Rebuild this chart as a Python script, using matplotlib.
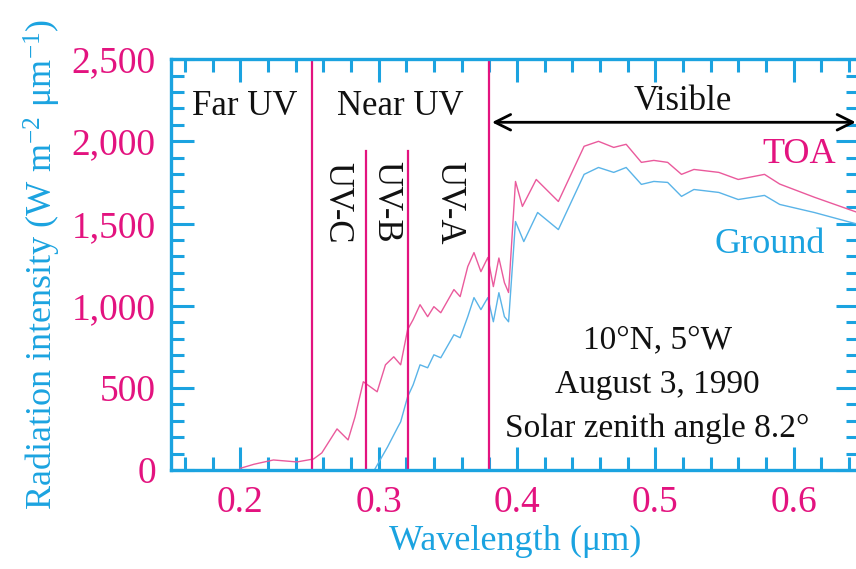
import matplotlib
matplotlib.use("Agg")
import matplotlib.pyplot as plt
from matplotlib.ticker import MultipleLocator

plt.rcParams['font.family'] = ['Liberation Serif', 'DejaVu Serif']
plt.rcParams['mathtext.fontset'] = 'custom'
plt.rcParams['mathtext.rm'] = 'Liberation Serif'
plt.rcParams['mathtext.it'] = 'Liberation Serif:italic'

PINK = '#e3137f'
BLUE = '#1ba3e0'

# espectro no topo da atmosfera (TOA)
toa_wl = [0.200, 0.210, 0.224, 0.241, 0.253, 0.259, 0.270, 0.278, 0.283, 0.289,
          0.299, 0.305, 0.311, 0.316, 0.321, 0.325, 0.330, 0.3355, 0.340, 0.345,
          0.3545, 0.359, 0.3645, 0.369, 0.374, 0.379, 0.383, 0.387, 0.391, 0.394,
          0.399, 0.404, 0.414, 0.430, 0.4486, 0.459, 0.470, 0.479, 0.490, 0.499,
          0.509, 0.519, 0.528, 0.546, 0.560, 0.579, 0.590, 0.615, 0.647]
toa_val = [10, 35, 61, 49, 67, 104, 250, 183, 323, 537,
           476, 640, 689, 640, 854, 915, 1006, 933, 994, 957,
           1098, 1055, 1238, 1323, 1207, 1293, 1116, 1290, 1140, 1080,
           1756, 1604, 1768, 1634, 1970, 2000, 1963, 1982, 1872, 1884,
           1872, 1799, 1829, 1811, 1768, 1799, 1740, 1660, 1565]

# espectro na superficie (Ground)
gnd_wl = [0.297, 0.3065, 0.314, 0.316, 0.321, 0.325, 0.330, 0.3355, 0.340, 0.345,
          0.3545, 0.359, 0.3645, 0.369, 0.374, 0.379, 0.383, 0.387, 0.391, 0.394,
          0.399, 0.405, 0.415, 0.430, 0.4486, 0.459, 0.470, 0.479, 0.490, 0.499,
          0.509, 0.519, 0.528, 0.546, 0.560, 0.579, 0.590, 0.615, 0.647]
gnd_val = [0, 140, 262, 293, 445, 518, 640, 622, 701, 683,
           823, 805, 933, 1049, 976, 1049, 902, 1079, 933, 902,
           1512, 1390, 1567, 1463, 1799, 1841, 1811, 1841, 1738, 1756,
           1750, 1665, 1707, 1689, 1646, 1671, 1616, 1567, 1494]

# limites das bandas
full_lines = [0.252, 0.38]
short_lines = [0.291, 0.321]
short_top = 1940

fig = plt.figure(figsize=(8.56, 5.69), dpi=100)
ax = fig.add_axes([0.1998, 0.174, 0.8032, 0.722])

ax.plot(toa_wl, toa_val, color='#ea5a9c', lw=1.0)
ax.plot(gnd_wl, gnd_val, color='#5ab4e8', lw=1.0)

for x in full_lines:
    ax.axvline(x, color=PINK, lw=1.6)
for x in short_lines:
    ax.plot([x, x], [0, short_top], color=PINK, lw=1.6)

ax.set_xlim(0.15, 0.647)
ax.set_ylim(0, 2500)

ax.xaxis.set_minor_locator(MultipleLocator(0.02))
ax.yaxis.set_minor_locator(MultipleLocator(100))
ax.set_xticks([0.2, 0.3, 0.4, 0.5, 0.6])
ax.set_xticklabels(['0.2', '0.3', '0.4', '0.5', '0.6'])
ax.set_yticks([0, 500, 1000, 1500, 2000, 2500])
ax.set_yticklabels(['0', '500', '1,000', '1,500', '2,000', '2,500'])

ax.tick_params(which='both', direction='in', top=True, right=True, color=BLUE,
               width=2.2, labelcolor=PINK, labelsize=27, pad=11)
ax.tick_params(which='major', length=16.5)
ax.tick_params(which='minor', length=9.5)
for s in ax.spines.values():
    s.set_color(BLUE)
    s.set_linewidth(2.4)

ax.set_xlabel('Wavelength (μm)', color=BLUE, fontsize=26, labelpad=4)
ax.set_ylabel('Radiation intensity (W m$^{-2}$ μm$^{-1}$)', color=BLUE, fontsize=26, labelpad=6)

ax.text(0.203, 2213, 'Far UV', ha='center', va='center', fontsize=25, color='#111111')
ax.text(0.316, 2213, 'Near UV', ha='center', va='center', fontsize=25, color='#111111')
ax.text(0.5197, 2244, 'Visible', ha='center', va='center', fontsize=25, color='#111111')
ax.annotate('', xy=(0.38, 2116), xytext=(0.647, 2116),
            arrowprops=dict(arrowstyle='<->', color='black', lw=2, mutation_scale=28),
            annotation_clip=False)

ax.text(0.270, 1628, 'UV-C', rotation=-90, ha='center', va='center', fontsize=25, color='#111111')
ax.text(0.305, 1634, 'UV-B', rotation=-90, ha='center', va='center', fontsize=25, color='#111111')
ax.text(0.3505, 1628, 'UV-A', rotation=-90, ha='center', va='center', fontsize=25, color='#111111')

ax.text(0.604, 1921, 'TOA', ha='center', va='center', fontsize=26, color=PINK)
ax.text(0.5826, 1372, 'Ground', ha='center', va='center', fontsize=26, color=BLUE)

ax.text(0.5016, 520, '10°N, 5°W\nAugust 3, 1990\nSolar zenith angle 8.2°',
        ha='center', va='center', fontsize=24, color='#111111', linespacing=1.6)

fig.savefig('out.png', dpi=100)
